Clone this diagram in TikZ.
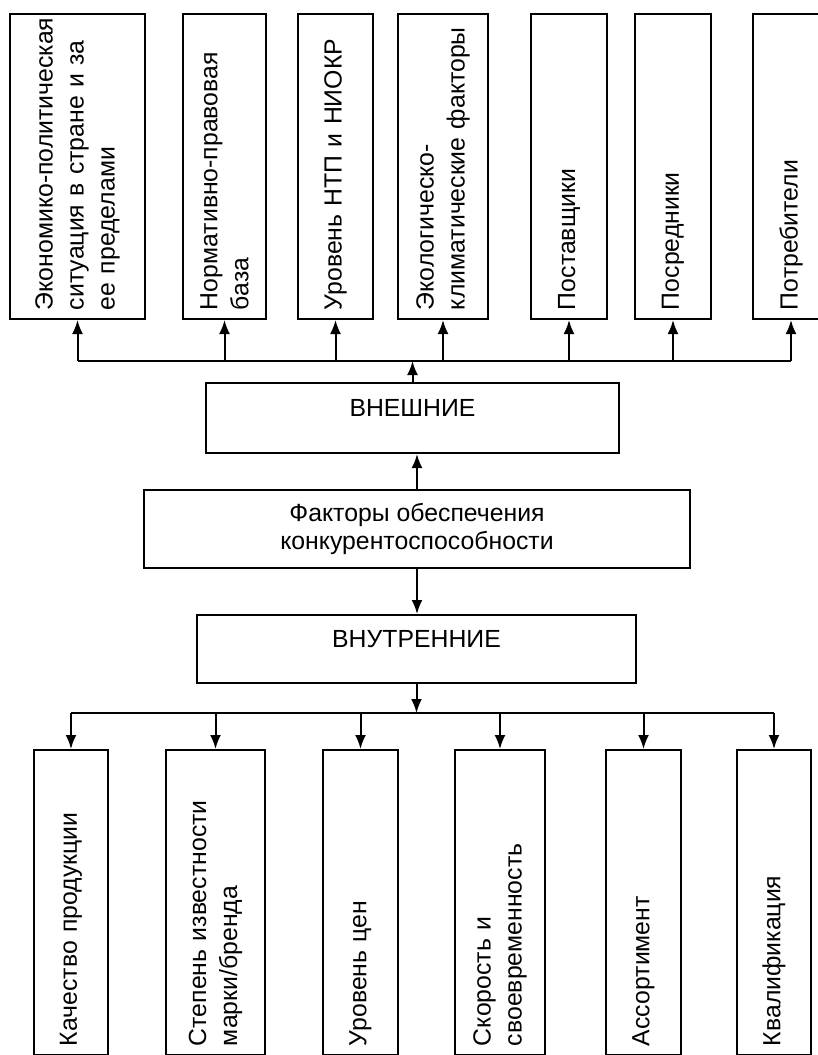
\documentclass[tikz,border=0pt]{standalone}
\usepackage{fontspec}
\setmainfont{Liberation Sans}
\usepackage{tikz}
\usetikzlibrary{arrows.meta,positioning}

\begin{document}
\begin{tikzpicture}
[x=0.5pt,y=-0.5pt,
factor/.style={rectangle,draw=black,line width=1pt,rotate=90,inner xsep=4.5pt,inner ysep=0pt,minimum width=152.5pt,text width=143.5pt,align=left,font=\fontsize{12.4}{15.5}\selectfont},
group/.style={rectangle,draw=black,line width=1pt,inner sep=0pt,align=center,font=\fontsize{12.4}{15.5}\selectfont},
arr/.style={-{Latex[length=7pt,width=5.5pt]},line width=1pt}]

\path[use as bounding box,clip] (0,0) rectangle (818,1055);

\node[factor,minimum height=67.5pt] (e1) at (77.5,166.5) {\mbox{Экономико-политическая}\\ситуация в стране и за\\ее пределами};
\node[factor,minimum height=41.5pt] (e2) at (224.5,166.5) {Нормативно-правовая\\база};
\node[factor,minimum height=37.5pt] (e3) at (335.5,166.5) {Уровень НТП и НИОКР};
\node[factor,minimum height=45pt] (e4) at (443,166.5) {Экологическо-\\климатические факторы};
\node[factor,minimum height=38pt] (e5) at (569,166.5) {Поставщики};
\node[factor,minimum height=38pt] (e6) at (673,166.5) {Посредники};
\node[factor,minimum height=38pt] (e7) at (791,166.5) {Потребители};

\coordinate (topbus) at (413,361);

\node[group,minimum width=206.5pt,minimum height=35pt,text height=16.5pt,text depth=18.5pt] (ext) at (412.5,418) {ВНЕШНИЕ};
\node[group,minimum width=273pt,minimum height=39pt,font=\fontsize{12.4}{13.8}\selectfont] (fac) at (417,529) {Факторы обеспечения\\конкурентоспособности};
\node[group,minimum width=219.5pt,minimum height=34pt,text height=16pt,text depth=18pt] (int) at (416.5,649) {ВНУТРЕННИЕ};

\coordinate (botbus) at (417,713);

\node[factor,minimum height=37pt] (i1) at (71,902.5) {Качество продукции};
\node[factor,minimum height=49.5pt] (i2) at (215.5,902.5) {Степень известности\\марки/бренда};
\node[factor,minimum height=37.5pt] (i3) at (360.5,902.5) {Уровень цен};
\node[factor,minimum height=45pt] (i4) at (500,902.5) {Скорость и\\своевременность};
\node[factor,minimum height=37.5pt] (i5) at (643.5,902.5) {Ассортимент};
\node[factor,minimum height=37pt] (i6) at (774,902.5) {Квалификация};

\draw[line width=1pt] (e1.west |- topbus) -- (e7.west |- topbus);
\foreach \n in {1,...,7}
  \draw[arr] (e\n.west |- topbus) -- (e\n.west);
\draw[arr] (ext.north) -- (ext.north |- topbus);
\draw[arr] (fac.north) -- (fac.north |- ext.south);
\draw[arr] (fac.south) -- (fac.south |- int.north);
\draw[arr] (int.south) -- (int.south |- botbus);
\draw[line width=1pt] (i1.east |- botbus) -- (i6.east |- botbus);
\foreach \n in {1,...,6}
  \draw[arr] (i\n.east |- botbus) -- (i\n.east);
\end{tikzpicture}
\end{document}
